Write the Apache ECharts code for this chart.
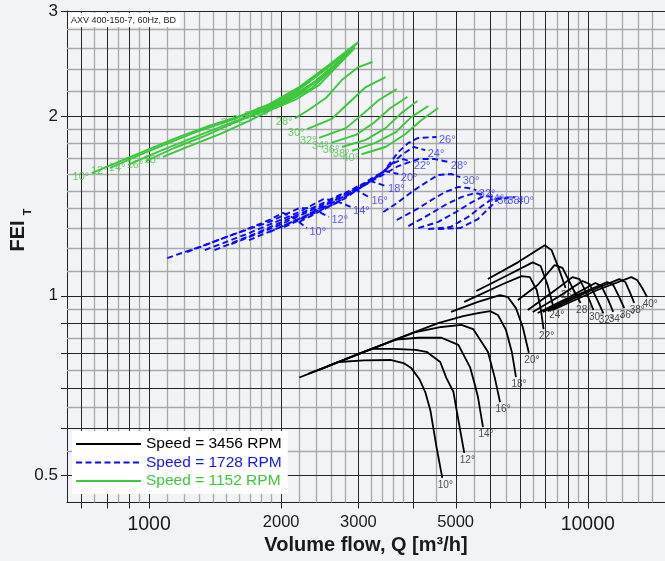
<!DOCTYPE html>
<html><head><meta charset="utf-8">
<script src="https://cdn.jsdelivr.net/npm/echarts@6/dist/echarts.min.js"></script>
<style>html,body{margin:0;padding:0;background:#f2f3f5;}#chart{width:665px;height:561px;}</style>
</head><body><div id="chart"></div>
<script>
// ---------- data ----------
const angles = [10,12,14,16,18,20,22,24,26,28,30,32,34,36,38,40];

// Speed = 3456 RPM  (Q m3/h, FEI)
const speed3456 = [
  [[2200,0.729],[2440,0.751],[2710,0.774],[3090,0.779],[3550,0.780],[3800,0.771],[3960,0.756],[4130,0.725],[4260,0.690],[4380,0.641],[4520,0.558],[4660,0.495]],
  [[2310,0.740],[2850,0.786],[3220,0.814],[3610,0.814],[4050,0.811],[4290,0.805],[4610,0.774],[4760,0.728],[4940,0.690],[5070,0.619],[5230,0.545]],
  [[2440,0.751],[3000,0.799],[3650,0.844],[4110,0.850],[4640,0.850],[5070,0.827],[5390,0.759],[5510,0.716],[5620,0.676],[5770,0.602]],
  [[2570,0.763],[3340,0.823],[4030,0.868],[4640,0.886],[5150,0.893],[5480,0.879],[5920,0.805],[6140,0.728],[6310,0.663]],
  [[2710,0.774],[3700,0.848],[4560,0.899],[5200,0.924],[5620,0.935],[5990,0.942],[6240,0.928],[6510,0.876],[6720,0.802],[6860,0.730]],
  [[4880,0.939],[5620,0.976],[6310,1.002],[6580,0.994],[6860,0.953],[7110,0.886],[7340,0.802]],
  [[5230,0.976],[6410,1.046],[7070,1.078],[7380,1.074],[7650,1.022],[7810,0.953],[7930,0.879]],
  [[5570,1.018],[6580,1.083],[7490,1.137],[7810,1.121],[8100,1.042],[8360,0.953]],
  [[5920,1.066],[6930,1.137],[7980,1.215],[8270,1.192],[8580,1.113],[8900,1.030]],
  [[6930,0.983],[7690,1.042],[8400,1.125],[8760,1.113],[9230,1.030],[9630,0.972]],
  [[7300,0.946],[8320,1.014],[9230,1.074],[9580,1.066],[9980,1.003],[10300,0.946]],
  [[7490,0.939],[8540,0.994],[9730,1.058],[10090,1.046],[10520,0.983],[10850,0.935]],
  [[7690,0.935],[9000,0.991],[10410,1.050],[10740,1.038],[11140,0.983],[11430,0.939]],
  [[7900,0.939],[9480,1.003],[11080,1.054],[11430,1.042],[11800,0.994],[12110,0.953]],
  [[8100,0.942],[9980,1.014],[11800,1.066],[12180,1.054],[12500,1.010],[12760,0.972]],
  [[8320,0.946],[10520,1.022],[12560,1.074],[12960,1.062],[13310,1.030],[13660,0.994]]
];

// Speed = 1728 RPM
const speed1728 = [
  [[1100,1.156],[1300,1.206],[1610,1.278],[1880,1.339],[2020,1.376],[2140,1.349],[2290,1.298]],
  [[1220,1.183],[1520,1.259],[1880,1.329],[2200,1.402],[2350,1.402],[2570,1.355]],
  [[1340,1.192],[1690,1.273],[2200,1.381],[2500,1.452],[2640,1.446],[2880,1.408]],
  [[1410,1.192],[1780,1.278],[2310,1.392],[2780,1.486],[2970,1.503],[3170,1.463]],
  [[1540,1.220],[1980,1.313],[2570,1.435],[3000,1.527],[3200,1.556],[3460,1.527]],
  [[1690,1.239],[2200,1.344],[2850,1.486],[3250,1.580],[3460,1.618],[3700,1.599]],
  [[1880,1.278],[2440,1.392],[3170,1.545],[3610,1.668],[3800,1.694],[3960,1.675]],
  [[2030,1.303],[2640,1.424],[3340,1.587],[3760,1.721],[4010,1.775],[4260,1.754]],
  [[2200,1.329],[2780,1.452],[3420,1.612],[3700,1.741],[3900,1.803],[4110,1.838],[4520,1.845]],
  [[2930,1.503],[3340,1.580],[3700,1.649],[4110,1.694],[4490,1.694],[4810,1.675]],
  [[3420,1.381],[3700,1.435],[3960,1.491],[4260,1.545],[4560,1.593],[4880,1.599],[5120,1.580]],
  [[3670,1.339],[4050,1.392],[4400,1.446],[4730,1.491],[5070,1.521],[5340,1.515],[5570,1.503]],
  [[3900,1.308],[4260,1.355],[4730,1.419],[5150,1.463],[5540,1.486],[5830,1.474]],
  [[4110,1.298],[4560,1.329],[5010,1.381],[5450,1.435],[5800,1.469],[6140,1.463]],
  [[4330,1.293],[4860,1.303],[5340,1.355],[5740,1.413],[6050,1.452],[6470,1.458]],
  [[4560,1.293],[5120,1.298],[5620,1.344],[5990,1.408],[6240,1.452],[6820,1.463]]
];

// Speed = 1152 RPM
const speed1152 = [
  [[740,1.605],[860,1.681],[1000,1.761],[1170,1.845],[1370,1.925],[1610,2.0],[1880,2.095],[2200,2.237],[2570,2.436],[3000,2.661]],
  [[815,1.637],[953,1.721],[1110,1.803],[1300,1.888],[1520,1.963],[1780,2.047],[2080,2.169],[2440,2.353],[2780,2.531],[2970,2.641]],
  [[895,1.656],[1060,1.748],[1240,1.831],[1450,1.917],[1690,2.0],[1980,2.12],[2310,2.28],[2640,2.464],[2930,2.621]],
  [[983,1.681],[1140,1.768],[1340,1.852],[1560,1.947],[1830,2.047],[2140,2.185],[2500,2.38],[2880,2.59]],
  [[1075,1.708],[1240,1.782],[1450,1.866],[1690,1.963],[1980,2.079],[2310,2.237],[2640,2.426],[2850,2.55]],
  [[1610,1.97],[1830,2.047],[2080,2.144],[2380,2.28],[2710,2.474],[2940,2.611]],
  [[1710,2.0],[1930,2.071],[2200,2.177],[2500,2.334],[2820,2.531]],
  [[1820,2.031],[2060,2.112],[2350,2.228],[2640,2.408],[2880,2.56]],
  [[1940,2.063],[2170,2.136],[2440,2.254],[2730,2.455],[2940,2.601]],
  [[2150,1.982],[2310,2.047],[2530,2.144],[2750,2.298],[3000,2.416],[3230,2.464]],
  [[2290,1.902],[2610,1.978],[2850,2.103],[3120,2.237],[3460,2.325]],
  [[2440,1.838],[2810,1.909],[3050,2.007],[3340,2.128],[3670,2.219]],
  [[2600,1.803],[2960,1.86],[3250,1.947],[3550,2.063],[3880,2.152]],
  [[2750,1.775],[3120,1.824],[3460,1.909],[3760,2.023],[4090,2.12]],
  [[2900,1.748],[3280,1.803],[3650,1.88],[3960,1.992],[4330,2.079]],
  [[3050,1.726],[3460,1.775],[3840,1.866],[4180,1.97],[4560,2.063]]
];

const legendNames = ['Speed = 3456 RPM','Speed = 1728 RPM','Speed = 1152 RPM'];
const xTickLabels = [1000,2000,3000,5000,10000];
const yTickLabels = [0.5,1,2,3];
const xMajorLines = [700,800,900,1000,2000,3000,4000,5000,6000,7000,8000,9000,10000];
const xMinorLines = [750,850,950,1100,1200,1300,1400,1500,1600,1700,1800,1900,2200,2400,2600,2800,3200,3400,3600,3800,4500,5500,6500,7500,8500,9500,11000,12000,13000,14000];
const yMajorLines = [0.5,0.6,0.7,0.8,0.9,1,2,3];
const yMinorLines = [0.55,0.65,0.75,0.85,0.95,1.1,1.2,1.3,1.4,1.5,1.6,1.7,1.8,1.9,2.2,2.4,2.6,2.8];
const X_MIN = 650, X_MAX = 15000, Y_MIN = 0.45, Y_MAX = 3;

// ---------- chart ----------
const FONT = '"Liberation Sans", Arial, Helvetica, sans-serif';
const chart = echarts.init(document.getElementById('chart'));
const snap = v => Math.round(v) + 0.5;

function gridLines(values, dir, color, width) {
  return {
    type: 'custom', silent: true, z: 1, animation: false,
    data: values.map(v => dir === 'x' ? [v, Y_MIN] : [X_MIN, v]),
    renderItem: (params, api) => {
      let a, b;
      if (dir === 'x') { a = api.coord([api.value(0), Y_MIN]); b = api.coord([api.value(0), Y_MAX]);
        return {type:'line', shape:{x1:snap(a[0]),y1:a[1],x2:snap(a[0]),y2:b[1]}, style:{stroke:color,lineWidth:width}}; }
      a = api.coord([X_MIN, api.value(1)]); b = api.coord([X_MAX, api.value(1)]);
      return {type:'line', shape:{x1:a[0],y1:snap(a[1]),x2:b[0],y2:snap(a[1])}, style:{stroke:color,lineWidth:width}};
    }
  };
}
function ticks(values, dir) {
  return {
    type: 'custom', silent: true, z: 2, animation: false,
    data: values.map(v => dir === 'x' ? [v, Y_MIN] : [X_MIN, v]),
    renderItem: (params, api) => {
      if (dir === 'x') { const p = api.coord([api.value(0), Y_MIN]);
        return {type:'line', shape:{x1:snap(p[0]),y1:p[1],x2:snap(p[0]),y2:p[1]+6}, style:{stroke:'#222',lineWidth:1}}; }
      const p = api.coord([X_MIN, api.value(1)]);
      return {type:'line', shape:{x1:p[0]-6,y1:snap(p[1]),x2:p[0],y2:snap(p[1])}, style:{stroke:'#222',lineWidth:1}};
    }
  };
}
function tickLabels(values, dir) {
  return {
    type: 'custom', silent: true, z: 2, animation: false,
    data: values.map(v => dir === 'x' ? [v, Y_MIN] : [X_MIN, v]),
    renderItem: (params, api) => {
      if (dir === 'x') {
        const v = api.value(0), p = api.coord([v, Y_MIN]);
        const decade = Math.abs(Math.log10(v) - Math.round(Math.log10(v))) < 1e-9;
        return {type:'text', x:p[0], y:p[1] + (decade ? 22 : 19.5),
          style:{text:String(v), fill:'#1a1a1a', fontSize: decade ? 19.5 : 16.5, fontFamily:FONT, align:'center', verticalAlign:'middle'}};
      }
      const v = api.value(1), p = api.coord([X_MIN, v]);
      return {type:'text', x:p[0]-9, y:p[1],
        style:{text:String(v), fill:'#1a1a1a', fontSize:17, fontFamily:FONT, align:'right', verticalAlign:'middle'}};
    }
  };
}

const families = [
  {name: legendNames[0], curves: speed3456, color:'#000000', text:'#222222', legendText:'#000000', width:1.8, type:'solid', at:'end'},
  {name: legendNames[1], curves: speed1728, color:'#0a0aff', text:'#3030ff', legendText:'#1414ff', width:1.9, type:[6,3.5], at:'end'},
  {name: legendNames[2], curves: speed1152, color:'#3cc83c', text:'#44c444', legendText:'#3cc83c', width:1.9, type:'solid', at:'start'}
];

const series = [
  gridLines(xMinorLines, 'x', '#a9a9a9', 1.3),
  gridLines(yMinorLines, 'y', '#a9a9a9', 1.3),
  gridLines(xMajorLines, 'x', '#262626', 1),
  gridLines(yMajorLines, 'y', '#262626', 1),
  ticks(xMajorLines, 'x'), ticks(yMajorLines, 'y'),
  tickLabels(xTickLabels, 'x'), tickLabels(yTickLabels, 'y')
];

families.forEach((f, fi) => {
  f.curves.forEach(c => series.push({
    type:'line', name:f.name, data:c, symbol:'none', showSymbol:false, silent:true, animation:false, z:3,
    lineStyle:{color:f.color, width:f.width, type:f.type}, itemStyle:{color:f.color}
  }));
  const lab = f.curves.map((c, i) => {
    const p = f.at === 'end' ? c[c.length - 1] : c[0];
    return [p[0], p[1], angles[i] + '°'];
  });
  let labelCfg;
  if (fi === 0) labelCfg = {position:[-4,3], align:'left', verticalAlign:'top', fontSize:10};
  else if (fi === 1) labelCfg = {position:[3,4], align:'left', verticalAlign:'middle', fontSize:11};
  else labelCfg = {position:[-2,4], align:'right', verticalAlign:'middle', fontSize:11};
  series.push({
    type:'scatter', name:'labels' + fi, data:lab, symbolSize:1, silent:true, animation:false, z:4,
    itemStyle:{color:'rgba(0,0,0,0)'},
    label:Object.assign({show:true, formatter:p => p.data[2], color:f.text, fontFamily:FONT}, labelCfg)
  });
});

chart.setOption({
  backgroundColor:'#f2f3f5',
  animation:false,
  textStyle:{fontFamily:FONT},
  title:{text:'AXV 400-150-7, 60Hz, BD', left:68, top:13, backgroundColor:'#ffffff', padding:[3,4,2,3],
    textStyle:{fontSize:9, fontWeight:'normal', color:'#222', fontFamily:FONT}},
  legend:{
    data: legendNames.map((n, i) => ({name:n, textStyle:{color:families[i].legendText}})),
    orient:'vertical', left:72, top:431, backgroundColor:'#ffffff', padding:[5,6,5,3],
    itemWidth:65, itemHeight:18, itemGap:2.5, selectedMode:false,
    itemStyle:{opacity:0},
    textStyle:{fontSize:15.5, fontFamily:FONT}
  },
  grid:{left:67, right:-3, top:11, bottom:58.5, containLabel:false},
  xAxis:{type:'log', logBase:10, min:X_MIN, max:X_MAX,
    axisLine:{show:true, onZero:false, lineStyle:{color:'#222', width:1}},
    axisTick:{show:false}, axisLabel:{show:false}, splitLine:{show:false}, minorSplitLine:{show:false},
    name:'Volume flow, Q [m³/h]', nameLocation:'middle', nameGap:33,
    nameTextStyle:{fontSize:20, fontWeight:'bold', color:'#1a1a1a', fontFamily:FONT}},
  yAxis:{type:'log', logBase:10, min:Y_MIN, max:Y_MAX,
    axisLine:{show:true, onZero:false, lineStyle:{color:'#222', width:1}},
    axisTick:{show:false}, axisLabel:{show:false}, splitLine:{show:false}},
  graphic:[
    {type:'text', x:28, y:236, rotation:Math.PI/2,
      style:{text:'FEI', fontSize:20, fontWeight:'bold', fill:'#1a1a1a', fontFamily:FONT, align:'center', verticalAlign:'bottom'}},
    {type:'text', x:27.5, y:212, rotation:Math.PI/2,
      style:{text:'T', fontSize:11, fontWeight:'bold', fill:'#1a1a1a', fontFamily:FONT, align:'center', verticalAlign:'middle'}}
  ],
  series: series
});
</script></body></html>
